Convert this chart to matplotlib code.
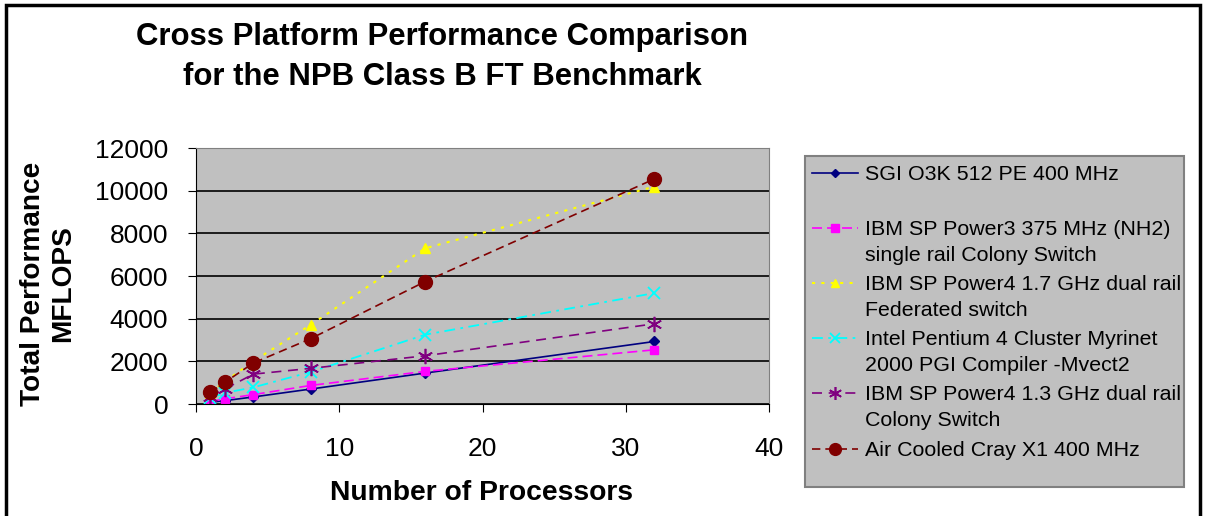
import matplotlib
matplotlib.use("Agg")
import matplotlib.pyplot as plt
from matplotlib.patches import Rectangle
from matplotlib.lines import Line2D

plt.rcParams["font.family"] = ["Liberation Sans", "DejaVu Sans"]

# data
processors = [1, 2, 4, 8, 16, 32]
sgi_o3k = [80, 155, 330, 700, 1450, 2930]
ibm_p3 = [120, 240, 440, 870, 1530, 2540]
ibm_p4_17 = [520, 1050, 2000, 3710, 7300, 10190]
intel_p4 = [280, 520, 780, 1500, 3250, 5200]
ibm_p4_13 = [350, 700, 1400, 1670, 2260, 3760]
cray_x1 = [540, 1010, 1920, 3060, 5740, 10550]

labels = [
    "SGI O3K 512 PE 400 MHz",
    "IBM SP Power3 375 MHz (NH2)\nsingle rail Colony Switch",
    "IBM SP Power4 1.7 GHz dual rail\nFederated switch",
    "Intel Pentium 4 Cluster Myrinet\n2000 PGI Compiler -Mvect2",
    "IBM SP Power4 1.3 GHz dual rail\nColony Switch",
    "Air Cooled Cray X1 400 MHz",
]
x_ticks = [0, 10, 20, 30, 40]
y_ticks = [0, 2000, 4000, 6000, 8000, 10000, 12000]

W, H = 1207, 516
fig = plt.figure(figsize=(W / 100, H / 100), dpi=100)
ax = fig.add_axes([196 / W, 1 - 404 / H, 573 / W, 256 / H])
ax.set_facecolor("#C0C0C0")

styles = [
    dict(color="#000080", ls="-", marker="D", ms=5, lw=1.2),
    dict(color="#FF00FF", ls=(0, (6, 3)), marker="s", ms=6, lw=1.2),
    dict(color="#FFFF00", ls=(0, (1.5, 3)), marker="^", ms=7, lw=1.5),
    dict(color="#00FFFF", ls=(0, (6, 3, 1.5, 3)), marker="x", ms=9, mew=1.3, lw=1.3),
    dict(color="#800080", ls=(0, (6, 4)), marker=(6, 2, 0), ms=11, mew=1.2, lw=1.2),
    dict(color="#800000", ls=(0, (5, 3)), marker="o", ms=10, lw=1.2),
]
series = [sgi_o3k, ibm_p3, ibm_p4_17, intel_p4, ibm_p4_13, cray_x1]
for vals, lab, st in zip(series, labels, styles):
    ax.plot(processors, vals, label=lab, **st)

ax.set_xlim(0, 40)
ax.set_ylim(0, 12000)
ax.set_xticks(x_ticks)
ax.set_yticks(y_ticks)
ax.yaxis.grid(True, color="black", lw=1.2)
ax.set_axisbelow(True)
ax.tick_params(labelsize=19, length=6, direction="out", color="black")
ax.tick_params(axis="x", pad=18)
ax.tick_params(axis="y", pad=14)
for side in ["top", "right"]:
    ax.spines[side].set_color("#808080")
for side in ["left", "bottom"]:
    ax.spines[side].set_color("black")

fig.text(482 / W, 1 - 493 / H, "Number of Processors", fontsize=20.3,
         fontweight="bold", ha="center", va="center")
fig.text(48 / W, 1 - 284 / H, "Total Performance\nMFLOPS", fontsize=20.2,
         fontweight="bold", ha="center", va="center", rotation=90,
         multialignment="center", linespacing=1.2)

fig.text(442 / W, 1 - 57 / H,
         "Cross Platform Performance Comparison\nfor the NPB Class B FT Benchmark",
         ha="center", va="center", fontsize=22.4, fontweight="bold", linespacing=1.4)

# legend box drawn by hand so each marker sits on the first text line
fig.patches.append(Rectangle((805 / W, 1 - 487 / H), 379 / W, 331 / H,
                             transform=fig.transFigure, facecolor="#C0C0C0",
                             edgecolor="#808080", lw=1.5))
row_y = [173, 228, 283, 338, 393, 449]
for lab, st, yy in zip(labels, styles, row_y):
    yf = 1 - yy / H
    line_st = {k: v for k, v in st.items() if k not in ("marker", "ms", "mew")}
    fig.add_artist(Line2D([812 / W, 858 / W], [yf, yf], transform=fig.transFigure,
                          **line_st))
    fig.add_artist(Line2D([835 / W], [yf], transform=fig.transFigure, ls="none",
                          color=st["color"], marker=st["marker"], ms=st["ms"] * 0.85,
                          mew=st.get("mew", 1.0)))
    fig.text(865 / W, 1 - (yy - 8) / H, lab, fontsize=15.4, ha="left", va="top",
             linespacing=1.45)

fig.patches.append(Rectangle((6 / W, -0.1), 1194 / W, 1.1 - 5 / H, transform=fig.transFigure,
                             fill=False, edgecolor="black", lw=2.5))

fig.savefig("out.png", dpi=100)
